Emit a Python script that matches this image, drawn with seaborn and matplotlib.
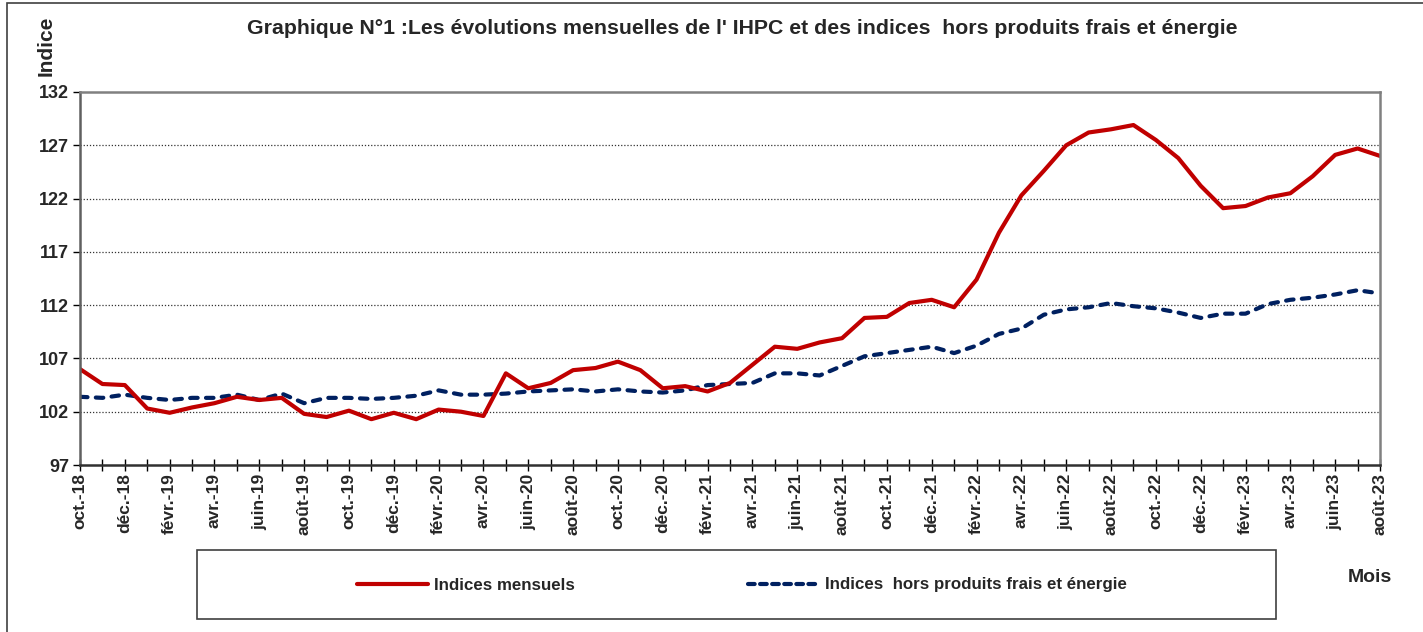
import matplotlib
matplotlib.use("Agg")
import matplotlib.pyplot as plt
import seaborn as sns
import pandas as pd
from matplotlib.lines import Line2D
from matplotlib.patches import Rectangle

# month labels oct.-18 ... août-23
month_names = ["janv.", "févr.", "mars", "avr.", "mai", "juin",
               "juil.", "août", "sept.", "oct.", "nov.", "déc."]
years = [18, 19, 20, 21, 22, 23]

indices_mensuels = [106.0, 104.6, 104.5, 102.3, 101.9, 102.4, 102.8, 103.4, 103.1, 103.3,
                    101.8, 101.5, 102.1, 101.3, 101.9, 101.3, 102.2, 102.0, 101.6, 105.6,
                    104.2, 104.7, 105.9, 106.1, 106.7, 105.9, 104.2, 104.4, 103.9, 104.7,
                    106.4, 108.1, 107.9, 108.5, 108.9, 110.8, 110.9, 112.2, 112.5, 111.8,
                    114.4, 118.8, 122.3, 124.6, 127.0, 128.2, 128.5, 128.9, 127.5, 125.8,
                    123.2, 121.1, 121.3, 122.1, 122.5, 124.1, 126.1, 126.7, 126.0]

indices_hors_pfe = [103.4, 103.3, 103.6, 103.3, 103.1, 103.3, 103.3, 103.6, 103.1, 103.7,
                    102.8, 103.3, 103.3, 103.2, 103.3, 103.5, 104.0, 103.6, 103.6, 103.7,
                    103.9, 104.0, 104.1, 103.9, 104.1, 103.9, 103.8, 104.0, 104.5, 104.6,
                    104.7, 105.6, 105.6, 105.4, 106.3, 107.2, 107.5, 107.8, 108.1, 107.5,
                    108.2, 109.3, 109.8, 111.1, 111.6, 111.8, 112.2, 111.9, 111.7, 111.3,
                    110.8, 111.2, 111.2, 112.1, 112.5, 112.7, 113.0, 113.4, 113.1]

labels = [f"{m}-{y}" for y in years for m in month_names]
labels = labels[9:9 + len(indices_mensuels)]

df = pd.DataFrame({"mois": range(len(labels)),
                   "mensuel": indices_mensuels,
                   "hors": indices_hors_pfe})

sns.set_theme(style="white")
plt.rcParams['font.family'] = ['Liberation Sans', 'DejaVu Sans']

RED = "#C00000"
NAVY = "#002060"

fig = plt.figure(figsize=(14.23, 6.32), dpi=100)
ax = fig.add_axes([80 / 1423, 1 - 465 / 632, 1300 / 1423, 373 / 632])

sns.lineplot(data=df, x="mois", y="hors", ax=ax, color=NAVY, lw=3,
             linestyle=(0, (1.8, 2.0)), dash_capstyle="round")
sns.lineplot(data=df, x="mois", y="mensuel", ax=ax, color=RED, lw=3)

ax.set_xlim(0, len(labels) - 1)
ax.set_ylim(97, 132)
ax.set_yticks(range(97, 133, 5))
ax.set_xticks(range(len(labels)))
ax.set_xticklabels([l if i % 2 == 0 else "" for i, l in enumerate(labels)],
                   rotation=90, fontsize=12.5, fontweight="bold")
for t in ax.get_yticklabels():
    t.set_fontsize(13)
    t.set_fontweight("bold")
ax.tick_params(axis="x", direction="inout", length=8, width=1, color="black", pad=2, bottom=True)
ax.tick_params(axis="y", direction="out", length=5, width=1, color="black", pad=3, left=True)
ax.set_xlabel("")
ax.set_ylabel("")

for y in range(102, 132, 5):
    ax.axhline(y, color="#333333", lw=0.9, linestyle=(0, (1, 1.5)), zorder=0)

for side in ["top", "right"]:
    ax.spines[side].set_color("#808080")
    ax.spines[side].set_linewidth(1.8)
ax.spines["left"].set_color("#606060")
ax.spines["left"].set_linewidth(1.8)
ax.spines["bottom"].set_color("#303030")
ax.spines["bottom"].set_linewidth(1.8)

fig.text(742 / 1423, 1 - 28 / 632,
         "Graphique N°1 :Les évolutions mensuelles de l' IHPC et des indices  hors produits frais et énergie",
         ha="center", va="center", fontsize=15.3, fontweight="bold")
fig.text(46 / 1423, 1 - 46 / 632, "Indice", rotation=90, ha="center", va="center",
         fontsize=15, fontweight="bold")
fig.text(1370 / 1423, 1 - 577 / 632, "Mois", ha="center", va="center",
         fontsize=14, fontweight="bold", family=["Liberation Sans Narrow", "Liberation Sans"])

# legend box
fig.add_artist(Rectangle((197 / 1423, 13 / 632), 1079 / 1423, 69 / 632,
                         transform=fig.transFigure, fill=False, edgecolor="#404040", lw=1.2))
handles = [Line2D([], [], color=RED, lw=3),
           Line2D([], [], color=NAVY, lw=3, linestyle=(0, (1.6, 1.3)), dash_capstyle="round")]
fig.legend(handles, ["Indices mensuels", "Indices  hors produits frais et énergie"],
           loc="center", bbox_to_anchor=(742 / 1423, 1 - 585 / 632), ncol=2, frameon=False,
           handlelength=4.2, handletextpad=0.35, columnspacing=10.2,
           prop={"family": ["Liberation Sans Narrow", "Liberation Sans"],
                 "weight": "bold", "size": 12.2})

# outer frame of the chart
fig.add_artist(Rectangle((7 / 1423, -0.1), 1.2, 1.1 - 3 / 632,
                         transform=fig.transFigure, fill=False, edgecolor="#404040", lw=1.2))

fig.savefig("out.png", dpi=100)
